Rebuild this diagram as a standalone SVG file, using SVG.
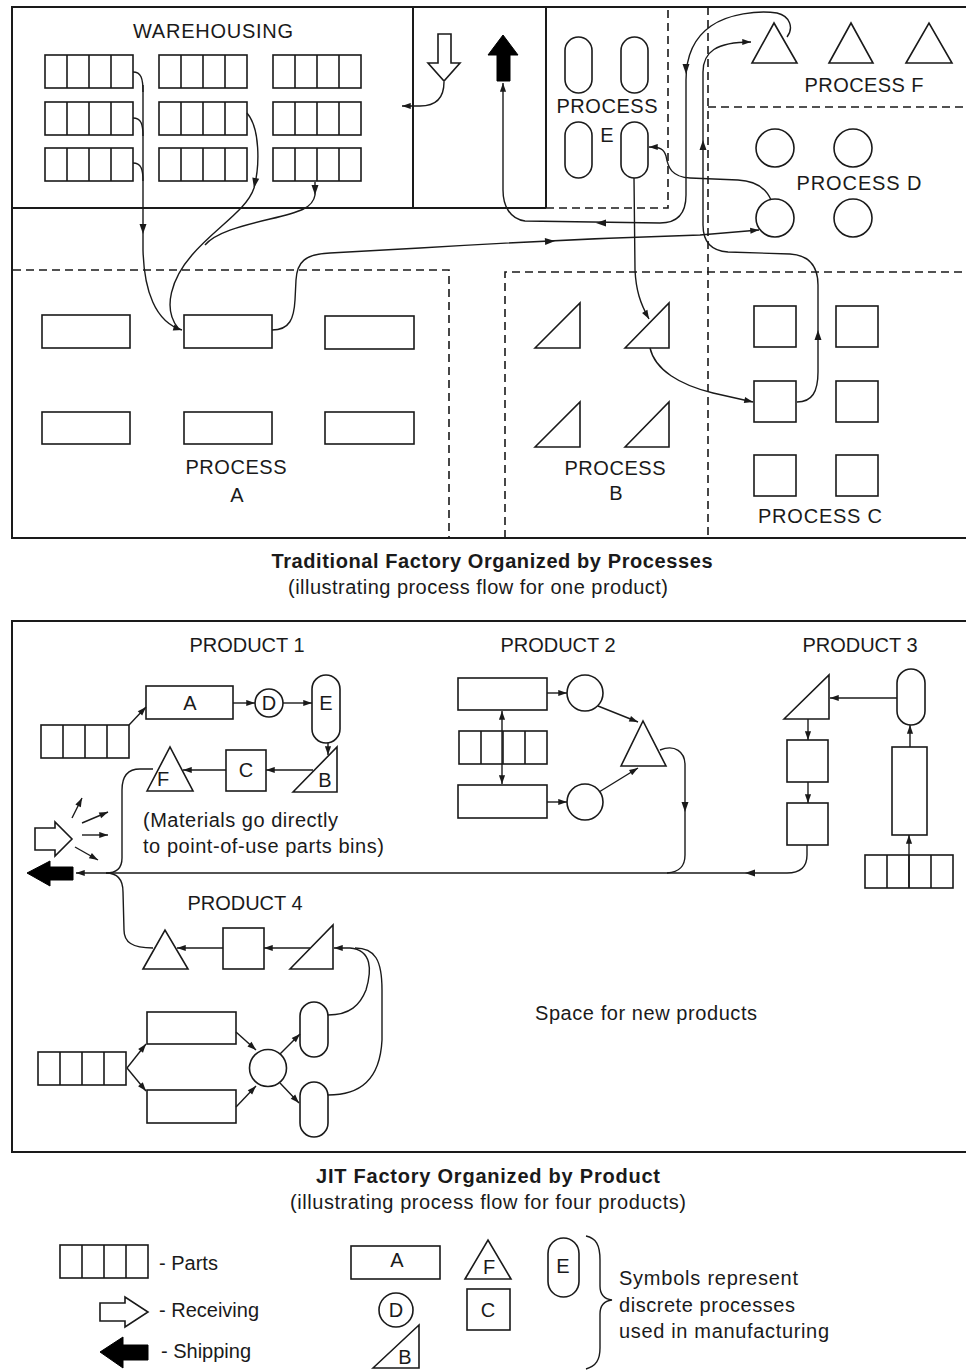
<svg xmlns="http://www.w3.org/2000/svg" xmlns:xlink="http://www.w3.org/1999/xlink" width="966" height="1371" viewBox="0 0 966 1371">
<style>
.f{fill:none;stroke:#1a1a1a;stroke-width:2}
.s{fill:#fff;stroke:#1a1a1a;stroke-width:1.6}
.c{fill:none;stroke:#1a1a1a;stroke-width:1.4}
.d{fill:none;stroke:#1a1a1a;stroke-width:1.6;stroke-dasharray:8 5}
.ln{stroke:#1a1a1a;stroke-width:1.6}
.a{marker-end:url(#ah)}
text{font-family:"Liberation Sans",Arial,sans-serif;font-size:20px;fill:#1a1a1a}
.m{text-anchor:middle}
.b{font-weight:bold}
</style>
<defs>
<marker id="ah" viewBox="0 0 10 8" refX="10" refY="4" markerWidth="10" markerHeight="7" orient="auto-start-reverse" markerUnits="userSpaceOnUse"><path d="M0,0.5 L10,4 L0,7.5 Z" fill="#1a1a1a"/></marker>
<path id="mh" d="M0,0 L-10,-3.5 L-10,3.5 Z" fill="#1a1a1a"/>
<g id="bin"><rect x="0" y="0" width="88" height="33" class="s"/><path d="M22,0V33M44,0V33M66,0V33" class="ln"/></g>
</defs>
<rect width="966" height="1371" fill="#fff"/>

<!-- ============ TOP PANEL ============ -->
<g id="top-frame">
<rect x="12" y="7" width="956" height="531" class="f"/>
<path d="M12,208H546M413,7V208M546,7V208" class="f"/>
<path d="M546,208H668V7" class="d"/>
<path d="M708,7V538" class="d"/>
<path d="M708,107H966" class="d"/>
<path d="M13,270H449V538" class="d"/>
<path d="M505,538V272H966" class="d"/>
</g>

<g id="warehousing">
<text x="213" y="38" class="m" textLength="160">WAREHOUSING</text>
<use href="#bin" x="45" y="55"/><use href="#bin" x="159" y="55"/><use href="#bin" x="273" y="55"/>
<use href="#bin" x="45" y="102"/><use href="#bin" x="159" y="102"/><use href="#bin" x="273" y="102"/>
<use href="#bin" x="45" y="148"/><use href="#bin" x="159" y="148"/><use href="#bin" x="273" y="148"/>
</g>

<g id="receiving-top"><path d="M438,34H451V63H460L444,81L428,63H438Z" class="s"/></g>
<g id="shipping-top"><path d="M503,35L518,55H510V81H497V55H488Z" fill="#000" stroke="#000" stroke-width="1"/></g>

<g id="process-a">
<rect x="42" y="315" width="88" height="33" class="s"/>
<rect x="184" y="315" width="88" height="33" class="s"/>
<rect x="325" y="316" width="89" height="33" class="s"/>
<rect x="42" y="412" width="88" height="32" class="s"/>
<rect x="184" y="412" width="88" height="32" class="s"/>
<rect x="325" y="412" width="89" height="32" class="s"/>
<text x="236" y="474" class="m" textLength="101">PROCESS</text>
<text x="237" y="502" class="m">A</text>
</g>

<g id="process-b">
<polygon points="535,348 580,303 580,348" class="s"/>
<polygon points="625,348 669,303 669,348" class="s"/>
<polygon points="535,447 580,402 580,447" class="s"/>
<polygon points="625,447 669,402 669,447" class="s"/>
<text x="615" y="475" class="m" textLength="101">PROCESS</text>
<text x="616" y="500" class="m">B</text>
</g>

<g id="process-c">
<rect x="754" y="306" width="42" height="41" class="s"/>
<rect x="836" y="306" width="42" height="41" class="s"/>
<rect x="754" y="381" width="42" height="41" class="s"/>
<rect x="836" y="381" width="42" height="41" class="s"/>
<rect x="754" y="455" width="42" height="41" class="s"/>
<rect x="836" y="455" width="42" height="41" class="s"/>
<text x="820" y="523" class="m" textLength="124">PROCESS C</text>
</g>

<g id="process-d">
<circle cx="775" cy="148" r="19" class="s"/>
<circle cx="853" cy="148" r="19" class="s"/>
<circle cx="775" cy="218" r="19" class="s"/>
<circle cx="853" cy="218" r="19" class="s"/>
<text x="859" y="190" class="m" textLength="125">PROCESS D</text>
</g>

<g id="process-e">
<rect x="565" y="37" width="27" height="56" rx="13.5" class="s"/>
<rect x="621" y="37" width="27" height="56" rx="13.5" class="s"/>
<rect x="565" y="122" width="27" height="56" rx="13.5" class="s"/>
<rect x="621" y="122" width="27" height="56" rx="13.5" class="s"/>
<text x="607" y="113" class="m" textLength="101">PROCESS</text>
<text x="607" y="142" class="m">E</text>
</g>

<g id="process-f">
<polygon points="752,63 774,23 797,63" class="s"/>
<polygon points="829,63 851,23 873,63" class="s"/>
<polygon points="906,63 929,23 952,63" class="s"/>
<text x="864" y="92" class="m" textLength="119">PROCESS F</text>
</g>

<g id="top-connectors">
<path d="M133,72C141,72 143,78 143,92M133,118C141,118 143,124 143,136M133,163C141,163 143,169 143,181" class="c"/>
<path d="M143,85L143,250C144,290 155,322 182,330" class="c a"/>
<path d="M247,113C260,128 260,165 254,188C247,210 215,228 192,255C172,278 162,308 178,328" class="c"/>
<path d="M315,182L315,195C313,208 300,212 270,219C240,226 215,233 205,245" class="c"/>
<path d="M444,82C444,98 436,106 420,106L402,106" class="c a"/>
<path d="M787,37C794,28 790,16 777,13C758,10 728,14 711,26C695,37 686,55 686,80L686,195C686,214 677,223 660,223L525,221C510,219 503,206 503,190L503,83" class="c a"/>
<path d="M797,402C812,402 818,392 818,372L818,285C818,263 806,255 790,254L728,252C712,251 703,242 703,225L703,72C703,52 716,42 751,42" class="c a"/>
<path d="M771,200C766,188 755,181 738,180L690,178C672,177 668,168 666,156C664,149 660,147 649,147" class="c a"/>
<path d="M272,330C290,330 294,318 295,300L296,280C297,262 305,254 330,253L420,248C500,243 600,238 700,235L759,230" class="c a"/>
<path d="M634,178L635,270C636,290 640,303 649,319" class="c a"/>
<path d="M650,348C655,370 680,385 713,393L753,402" class="c a"/>
<use href="#mh" transform="translate(143,234) rotate(90)"/>
<use href="#mh" transform="translate(254,188) rotate(100)"/>
<use href="#mh" transform="translate(315,195) rotate(90)"/>
<use href="#mh" transform="translate(686,74) rotate(90)"/>
<use href="#mh" transform="translate(596,223) rotate(180)"/>
<use href="#mh" transform="translate(818,330) rotate(-90)"/>
<use href="#mh" transform="translate(703,140) rotate(-90)"/>
<use href="#mh" transform="translate(555,241) rotate(-3)"/>
</g>

<g id="caption-top">
<text x="492" y="568" class="m b" textLength="441">Traditional Factory Organized by Processes</text>
<text x="478" y="594" class="m" textLength="380">(illustrating process flow for one product)</text>
</g>

<!-- ============ BOTTOM PANEL ============ -->
<g id="bottom-frame"><rect x="12" y="621" width="956" height="531" class="f"/></g>

<g id="product-1">
<text x="247" y="652" class="m">PRODUCT 1</text>
<use href="#bin" x="41" y="725"/>
<rect x="146" y="686" width="87" height="33" class="s"/>
<text x="190" y="710" class="m">A</text>
<circle cx="269" cy="703" r="14" class="s"/>
<text x="269" y="710" class="m">D</text>
<rect x="312" y="675" width="28" height="68" rx="14" class="s"/>
<text x="326" y="710" class="m">E</text>
<polygon points="293,792 337,747 337,792" class="s"/>
<text x="325" y="787" class="m">B</text>
<rect x="226" y="750" width="40" height="41" class="s"/>
<text x="246" y="777" class="m">C</text>
<polygon points="147,791 170,747 193,791" class="s"/>
<text x="163" y="786" class="m">F</text>
<text x="143" y="827" textLength="195">(Materials go directly</text>
<text x="143" y="853" textLength="241">to point-of-use parts bins)</text>
</g>

<g id="receiving-bottom"><path d="M35,828H55V822L72,839L55,856V850H35Z" class="s"/></g>
<g id="shipping-bottom"><path d="M27,873L50,861V867H73V880H50V886Z" fill="#000" stroke="#000" stroke-width="1"/></g>

<g id="product-2">
<text x="558" y="652" class="m">PRODUCT 2</text>
<rect x="458" y="678" width="89" height="32" class="s"/>
<use href="#bin" x="459" y="731"/>
<rect x="458" y="785" width="89" height="33" class="s"/>
<circle cx="585" cy="693" r="18" class="s"/>
<circle cx="585" cy="802" r="18" class="s"/>
<polygon points="621,766 643,721 666,766" class="s"/>
</g>

<g id="product-3">
<text x="860" y="652" class="m">PRODUCT 3</text>
<polygon points="784,719 829,675 829,719" class="s"/>
<rect x="897" y="669" width="28" height="56" rx="14" class="s"/>
<rect x="787" y="740" width="41" height="42" class="s"/>
<rect x="787" y="803" width="41" height="42" class="s"/>
<rect x="892" y="747" width="35" height="88" class="s"/>
<use href="#bin" x="865" y="855"/>
</g>

<g id="product-4">
<text x="245" y="910" class="m">PRODUCT 4</text>
<polygon points="143,969 165,930 188,969" class="s"/>
<rect x="223" y="928" width="41" height="41" class="s"/>
<polygon points="290,969 333,925 333,969" class="s"/>
<use href="#bin" x="38" y="1052"/>
<rect x="147" y="1012" width="89" height="32" class="s"/>
<rect x="147" y="1090" width="89" height="33" class="s"/>
<circle cx="268" cy="1068" r="18.5" class="s"/>
<rect x="300" y="1002" width="28" height="55" rx="14" class="s"/>
<rect x="300" y="1082" width="28" height="55" rx="14" class="s"/>
</g>

<g id="new-products"><text x="535" y="1020" textLength="222">Space for new products</text></g>

<g id="bottom-connectors">
<path d="M807,845L807,855C807,868 800,873 787,873L76,873" class="c a"/>
<path d="M660,750C675,744 685,752 685,765L685,855C685,866 680,872 667,873" class="c"/>
<path d="M153,769L140,769C127,769 122,778 122,790L122,858C122,868 116,873 106,873" class="c"/>
<path d="M106,873C118,873 123,880 123,892L124,930C124,942 132,948 153,948" class="c"/>
<use href="#mh" transform="translate(745,873) rotate(180)"/>
<use href="#mh" transform="translate(685,812) rotate(90)"/>
<!-- product 1 -->
<path d="M129,725L146,707" class="c a"/>
<path d="M233,703L255,703" class="c a"/>
<path d="M283,703L312,703" class="c a"/>
<path d="M328,743L328,755" class="c a"/>
<path d="M313,770L266,770" class="c a"/>
<path d="M226,770L183,770" class="c a"/>
<path d="M72,818L82,798" class="c a"/>
<path d="M82,823L108,812" class="c a"/>
<path d="M82,835L108,835" class="c a"/>
<path d="M75,847L98,860" class="c a"/>
<!-- product 2 -->
<path d="M502,711L502,784" class="c a" style="marker-start:url(#ah)"/>
<path d="M547,693L567,693" class="c a"/>
<path d="M547,802L567,802" class="c a"/>
<path d="M598,706L638,722" class="c a"/>
<path d="M599,792L638,768" class="c a"/>
<!-- product 3 -->
<path d="M897,698L830,698" class="c a"/>
<path d="M808,719L808,740" class="c a"/>
<path d="M808,782L808,803" class="c a"/>
<path d="M910,747L910,725" class="c a"/>
<path d="M909,888L909,835" class="c a"/>
<!-- product 4 -->
<path d="M223,948L177,948" class="c a"/>
<path d="M310,948L264,948" class="c a"/>
<path d="M328,1015C350,1015 360,1005 366,990C372,970 372,950 350,948L334,948" class="c a"/>
<path d="M328,1095C360,1095 380,1080 382,1040L382,990C382,960 375,948 355,948" class="c"/>
<path d="M127,1068L146,1044" class="c a"/>
<path d="M127,1068L146,1091" class="c a"/>
<path d="M236,1032L256,1050" class="c a"/>
<path d="M236,1107L256,1086" class="c a"/>
<path d="M280,1054L300,1034" class="c a"/>
<path d="M280,1083L299,1103" class="c a"/>
</g>

<g id="caption-bottom">
<text x="488" y="1183" class="m b" textLength="344">JIT Factory Organized by Product</text>
<text x="488" y="1209" class="m" textLength="396">(illustrating process flow for four products)</text>
</g>

<!-- ============ LEGEND ============ -->
<g id="legend-parts"><use href="#bin" x="60" y="1245"/><text x="159" y="1270">- Parts</text></g>
<g id="legend-receiving"><path d="M100,1303H125V1297L148,1312L125,1327V1321H100Z" class="s"/><text x="159" y="1317">- Receiving</text></g>
<g id="legend-shipping"><path d="M100,1352L123,1337V1345H148V1360H123V1368Z" fill="#000" stroke="#000" stroke-width="1"/><text x="161" y="1358">- Shipping</text></g>
<g id="legend-symbols">
<rect x="351" y="1246" width="89" height="33" class="s"/><text x="397" y="1267" class="m">A</text>
<polygon points="465,1279 488,1240 511,1279" class="s"/><text x="489" y="1274" class="m">F</text>
<rect x="548" y="1238" width="31" height="59" rx="15.5" class="s"/><text x="563" y="1273" class="m">E</text>
<circle cx="396" cy="1310" r="17" class="s"/><text x="396" y="1317" class="m">D</text>
<rect x="467" y="1289" width="43" height="41" class="s"/><text x="488" y="1317" class="m">C</text>
<polygon points="373,1368 419,1325 419,1368" class="s"/><text x="405" y="1364" class="m">B</text>
</g>
<g id="legend-brace">
<path d="M586,1236C596,1238 600,1245 600,1260L600,1286C600,1295 604,1299 612,1300C604,1301 600,1305 600,1314L600,1348C600,1360 596,1366 586,1369" class="c" stroke-width="1.6"/>
<text x="619" y="1285" textLength="179">Symbols represent</text>
<text x="619" y="1312" textLength="176">discrete processes</text>
<text x="619" y="1338" textLength="210">used in manufacturing</text>
</g>
</svg>
